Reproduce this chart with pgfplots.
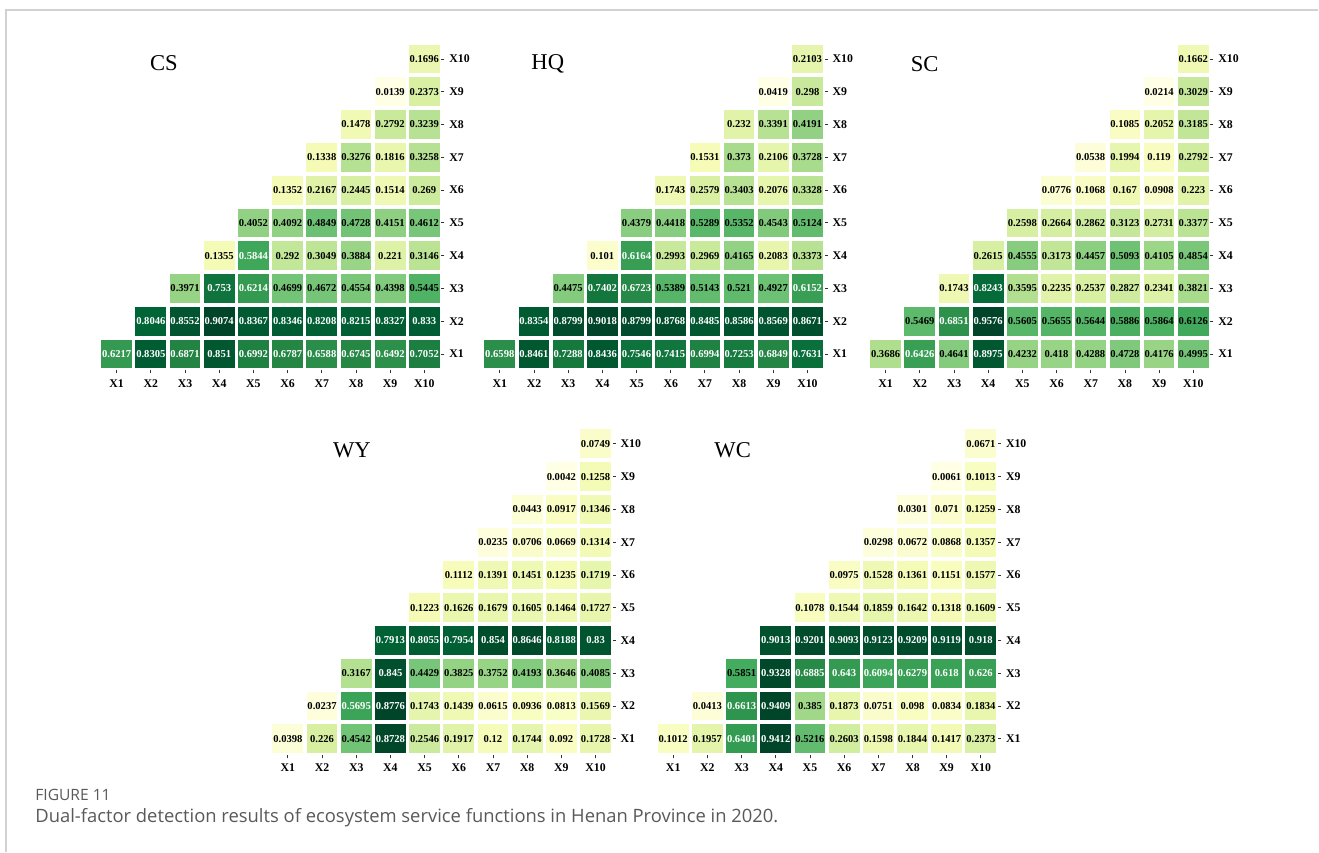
\documentclass[border=0pt]{standalone}
\usepackage{pgfplots}
\pgfplotsset{compat=1.18}
\usepackage{pgfplotstable}
\usepackage{fontspec}
\setmainfont{Liberation Serif}
\newfontfamily\capfont{Open Sans}

\newcommand\valfont{\fontsize{5.3}{5.3}\selectfont\bfseries}
\newcommand\tickfont{\fontsize{5.9}{5.9}\selectfont\bfseries}
\newcommand\titlefont{\fontsize{11.3}{11.3}\selectfont}

% cell text: white on dark cells (value above the panel threshold), black elsewhere
\def\thr{0.5}
\protected\def\celltext#1{\edef\cellstr{#1}\ifdim\cellstr pt>\thr pt\color{white}\else\color{black}\fi\cellstr}

% YlGn sequential colormap
\pgfplotsset{colormap={ylgn}{rgb255(0cm)=(255,255,229) rgb255(1cm)=(247,252,185)
  rgb255(2cm)=(217,240,163) rgb255(3cm)=(173,221,142) rgb255(4cm)=(120,198,121)
  rgb255(5cm)=(65,171,93) rgb255(6cm)=(35,132,67) rgb255(7cm)=(0,104,55)
  rgb255(8cm)=(0,69,41)}}

% one filled heat-map cell, no outline
\pgfdeclareplotmark{cell}{%
  \pgfpathrectangle{\pgfqpoint{-7.7pt}{-7.2pt}}{\pgfqpoint{15.4pt}{14.4pt}}%
  \pgfusepathqfill}

\pgfplotsset{hm/.style={
  anchor=south west,
  x=17.1pt, y=16.4pt,
  xmin=0.5, xmax=10.5, ymin=0.5, ymax=10.5,
  axis x line*=bottom, axis y line*=right,
  axis line style={draw=none},
  xtick={1,2,3,4,5,6,7,8,9,10}, ytick={1,2,3,4,5,6,7,8,9,10},
  xticklabels={X1,X2,X3,X4,X5,X6,X7,X8,X9,X10},
  yticklabels={X1,X2,X3,X4,X5,X6,X7,X8,X9,X10},
  tick align=outside, major tick length=1.5pt,
  tick style={black!80, line width=0.4pt},
  xticklabel style={font=\tickfont, yshift=0.6pt},
  yticklabel style={font=\tickfont, xshift=-1pt},
  colormap name=ylgn,
  clip=false,
}}
% cells coloured by value
\pgfplotsset{cells/.style={
  scatter, only marks, mark=cell,
  point meta=explicit,
  scatter/use mapped color={fill=mapped color},
}}
% value written in each cell
\pgfplotsset{labels/.style={
  only marks, mark=none,
  point meta=explicit symbolic,
  nodes near coords={\celltext{\pgfplotspointmeta}},
  every node near coord/.append style={font=\valfont, inner sep=0pt, anchor=center},
}}

\pgfplotstableread{
x y v
1 1 0.6217
2 1 0.8305
3 1 0.6871
4 1 0.851
5 1 0.6992
6 1 0.6787
7 1 0.6588
8 1 0.6745
9 1 0.6492
10 1 0.7052
2 2 0.8046
3 2 0.8552
4 2 0.9074
5 2 0.8367
6 2 0.8346
7 2 0.8208
8 2 0.8215
9 2 0.8327
10 2 0.833
3 3 0.3971
4 3 0.753
5 3 0.6214
6 3 0.4699
7 3 0.4672
8 3 0.4554
9 3 0.4398
10 3 0.5445
4 4 0.1355
5 4 0.5844
6 4 0.292
7 4 0.3049
8 4 0.3884
9 4 0.221
10 4 0.3146
5 5 0.4052
6 5 0.4092
7 5 0.4849
8 5 0.4728
9 5 0.4151
10 5 0.4612
6 6 0.1352
7 6 0.2167
8 6 0.2445
9 6 0.1514
10 6 0.269
7 7 0.1338
8 7 0.3276
9 7 0.1816
10 7 0.3258
8 8 0.1478
9 8 0.2792
10 8 0.3239
9 9 0.0139
10 9 0.2373
10 10 0.1696
}\tabcs

\pgfplotstableread{
x y v
1 1 0.6598
2 1 0.8461
3 1 0.7288
4 1 0.8436
5 1 0.7546
6 1 0.7415
7 1 0.6994
8 1 0.7253
9 1 0.6849
10 1 0.7631
2 2 0.8354
3 2 0.8799
4 2 0.9018
5 2 0.8799
6 2 0.8768
7 2 0.8485
8 2 0.8586
9 2 0.8569
10 2 0.8671
3 3 0.4475
4 3 0.7402
5 3 0.6723
6 3 0.5389
7 3 0.5143
8 3 0.521
9 3 0.4927
10 3 0.6152
4 4 0.101
5 4 0.6164
6 4 0.2993
7 4 0.2969
8 4 0.4165
9 4 0.2083
10 4 0.3373
5 5 0.4379
6 5 0.4418
7 5 0.5289
8 5 0.5352
9 5 0.4543
10 5 0.5124
6 6 0.1743
7 6 0.2579
8 6 0.3403
9 6 0.2076
10 6 0.3328
7 7 0.1531
8 7 0.373
9 7 0.2106
10 7 0.3728
8 8 0.232
9 8 0.3391
10 8 0.4191
9 9 0.0419
10 9 0.298
10 10 0.2103
}\tabhq

\pgfplotstableread{
x y v
1 1 0.3686
2 1 0.6426
3 1 0.4641
4 1 0.8975
5 1 0.4232
6 1 0.418
7 1 0.4288
8 1 0.4728
9 1 0.4176
10 1 0.4995
2 2 0.5469
3 2 0.6851
4 2 0.9576
5 2 0.5605
6 2 0.5655
7 2 0.5644
8 2 0.5886
9 2 0.5864
10 2 0.6126
3 3 0.1743
4 3 0.8243
5 3 0.3595
6 3 0.2235
7 3 0.2537
8 3 0.2827
9 3 0.2341
10 3 0.3821
4 4 0.2615
5 4 0.4555
6 4 0.3173
7 4 0.4457
8 4 0.5093
9 4 0.4105
10 4 0.4854
5 5 0.2598
6 5 0.2664
7 5 0.2862
8 5 0.3123
9 5 0.2731
10 5 0.3377
6 6 0.0776
7 6 0.1068
8 6 0.167
9 6 0.0908
10 6 0.223
7 7 0.0538
8 7 0.1994
9 7 0.119
10 7 0.2792
8 8 0.1085
9 8 0.2052
10 8 0.3185
9 9 0.0214
10 9 0.3029
10 10 0.1662
}\tabsc

\pgfplotstableread{
x y v
1 1 0.0398
2 1 0.226
3 1 0.4542
4 1 0.8728
5 1 0.2546
6 1 0.1917
7 1 0.12
8 1 0.1744
9 1 0.092
10 1 0.1728
2 2 0.0237
3 2 0.5695
4 2 0.8776
5 2 0.1743
6 2 0.1439
7 2 0.0615
8 2 0.0936
9 2 0.0813
10 2 0.1569
3 3 0.3167
4 3 0.845
5 3 0.4429
6 3 0.3825
7 3 0.3752
8 3 0.4193
9 3 0.3646
10 3 0.4085
4 4 0.7913
5 4 0.8055
6 4 0.7954
7 4 0.854
8 4 0.8646
9 4 0.8188
10 4 0.83
5 5 0.1223
6 5 0.1626
7 5 0.1679
8 5 0.1605
9 5 0.1464
10 5 0.1727
6 6 0.1112
7 6 0.1391
8 6 0.1451
9 6 0.1235
10 6 0.1719
7 7 0.0235
8 7 0.0706
9 7 0.0669
10 7 0.1314
8 8 0.0443
9 8 0.0917
10 8 0.1346
9 9 0.0042
10 9 0.1258
10 10 0.0749
}\tabwy

\pgfplotstableread{
x y v
1 1 0.1012
2 1 0.1957
3 1 0.6401
4 1 0.9412
5 1 0.5216
6 1 0.2603
7 1 0.1598
8 1 0.1844
9 1 0.1417
10 1 0.2373
2 2 0.0413
3 2 0.6613
4 2 0.9409
5 2 0.385
6 2 0.1873
7 2 0.0751
8 2 0.098
9 2 0.0834
10 2 0.1834
3 3 0.5851
4 3 0.9328
5 3 0.6885
6 3 0.643
7 3 0.6094
8 3 0.6279
9 3 0.618
10 3 0.626
4 4 0.9013
5 4 0.9201
6 4 0.9093
7 4 0.9123
8 4 0.9209
9 4 0.9119
10 4 0.918
5 5 0.1078
6 5 0.1544
7 5 0.1859
8 5 0.1642
9 5 0.1318
10 5 0.1609
6 6 0.0975
7 6 0.1528
8 6 0.1361
9 6 0.1151
10 6 0.1577
7 7 0.0298
8 7 0.0672
9 7 0.0868
10 7 0.1357
8 8 0.0301
9 8 0.071
10 8 0.1259
9 9 0.0061
10 9 0.1013
10 10 0.0671
}\tabwc

\begin{document}
\begin{tikzpicture}
% page extent and frame rules
\path (0pt,0pt) rectangle (659.5pt,426pt);
\draw[black!18, line width=0.6pt] (3pt,0pt) -- (3pt,421pt) -- (659.5pt,421pt);

\def\thr{0.56}
\begin{axis}[hm, at={(49.8pt,240.7pt)}]
  \addplot[cells] table[x=x, y=y, meta=v] {\tabcs};
  \addplot[labels] table[x=x, y=y, meta=v] {\tabcs};
\end{axis}
\def\thr{0.58}
\begin{axis}[hm, at={(241.45pt,240.7pt)}]
  \addplot[cells] table[x=x, y=y, meta=v] {\tabhq};
  \addplot[labels] table[x=x, y=y, meta=v] {\tabhq};
\end{axis}
\def\thr{0.63}
\begin{axis}[hm, at={(434.45pt,240.7pt)}]
  \addplot[cells] table[x=x, y=y, meta=v] {\tabsc};
  \addplot[labels] table[x=x, y=y, meta=v] {\tabsc};
\end{axis}
\def\thr{0.50}
\begin{axis}[hm, at={(135.45pt,48.2pt)}]
  \addplot[cells] table[x=x, y=y, meta=v] {\tabwy};
  \addplot[labels] table[x=x, y=y, meta=v] {\tabwy};
\end{axis}
\def\thr{0.60}
\begin{axis}[hm, at={(328.2pt,48.2pt)}]
  \addplot[cells] table[x=x, y=y, meta=v] {\tabwc};
  \addplot[labels] table[x=x, y=y, meta=v] {\tabwc};
\end{axis}

\node[font=\titlefont] at (82pt,394.5pt) {CS};
\node[font=\titlefont] at (274pt,394pt) {HQ};
\node[font=\titlefont] at (462.5pt,394pt) {SC};
\node[font=\titlefont] at (176pt,201pt) {WY};
\node[font=\titlefont] at (366.5pt,201pt) {WC};

\node[anchor=west, inner sep=0pt, text=black!65, font=\capfont\fontsize{7.8}{7.8}\selectfont] at (17.5pt,28.5pt) {FIGURE 11};
\node[anchor=west, inner sep=0pt, text=black!65, font=\capfont\fontsize{9.2}{9.2}\selectfont] at (17.5pt,17pt) {Dual-factor detection results of ecosystem service functions in Henan Province in 2020.};
\end{tikzpicture}
\end{document}
